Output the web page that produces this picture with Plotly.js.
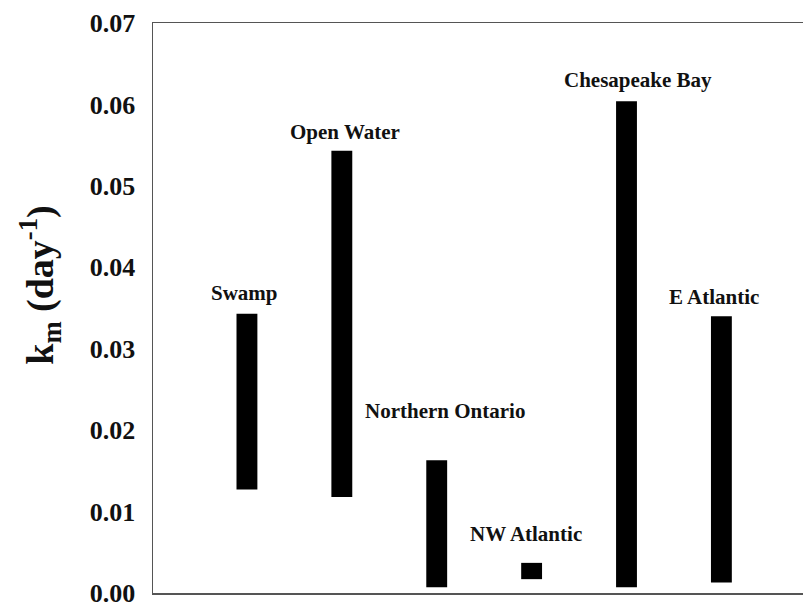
<!DOCTYPE html>
<html>
<head>
<meta charset="utf-8">
<script src="https://cdn.plot.ly/plotly-3.0.1.min.js"></script>
<style>
  html, body { margin: 0; padding: 0; background: #ffffff; }
  #chart { width: 803px; height: 605px; }
</style>
</head>
<body>
<div id="chart"></div>
<script>
// Range of the decay constant k_m (day^-1) for each environment
const sites = ["Swamp", "Open Water", "Northern Ontario", "NW Atlantic", "Chesapeake Bay", "E Atlantic"];
const kmLow = [0.0127, 0.0118, 0.0007, 0.0017, 0.0007, 0.0013];
const kmHigh = [0.0343, 0.0543, 0.0163, 0.0037, 0.0604, 0.0340];
const yTicks = [0, 0.01, 0.02, 0.03, 0.04, 0.05, 0.06, 0.07];
const yTickText = ["0.00", "0.01", "0.02", "0.03", "0.04", "0.05", "0.06", "0.07"];
const yTitle = "k<sub>m</sub> (day<sup>-1</sup>)";

// label offsets (px) from the top of each range bar
const labelShift = [[-2, 21], [3, 19], [8, 49], [-6, 29], [11, 21], [-7, 19]];

const serif = "Liberation Serif";

const trace = {
  type: "bar",
  x: sites.map((_, i) => i),
  base: kmLow,
  y: kmHigh.map((h, i) => h - kmLow[i]),
  width: 0.22,
  marker: { color: "#000000", line: { width: 0 } },
  hoverinfo: "skip"
};

const annotations = sites.map((name, i) => ({
  x: i,
  y: kmHigh[i],
  xref: "x",
  yref: "y",
  text: name,
  showarrow: false,
  xanchor: "center",
  yanchor: "middle",
  xshift: labelShift[i][0],
  yshift: labelShift[i][1],
  font: { family: serif, size: 21, color: "#111111", weight: "bold" }
}));

// vertical axis title, placed a little above the middle of the axis
annotations.push({
  x: -0.173,
  y: 0.54,
  xref: "paper",
  yref: "paper",
  text: yTitle,
  textangle: -90,
  showarrow: false,
  xanchor: "center",
  yanchor: "middle",
  font: { family: serif, size: 38, color: "#111111", weight: "bold" }
});

const layout = {
  width: 803,
  height: 605,
  margin: { l: 153, r: 0, t: 23, b: 12 },
  paper_bgcolor: "#ffffff",
  plot_bgcolor: "#ffffff",
  showlegend: false,
  xaxis: {
    range: [-0.99, 5.86],
    showticklabels: false,
    ticks: "",
    showgrid: false,
    zeroline: false,
    showline: true,
    mirror: true,
    linecolor: "#555555",
    linewidth: 1.5
  },
  yaxis: {
    range: [0, 0.07],
    tickvals: yTicks,
    ticktext: yTickText,
    ticks: "",
    ticklabelstandoff: 11,
    ticklabeloverflow: "allow",
    showgrid: false,
    zeroline: false,
    showline: true,
    linecolor: "#555555",
    linewidth: 1.5,
    tickfont: { family: serif, size: 26, color: "#111111", weight: "bold" }
  },
  annotations: annotations
};

Plotly.newPlot("chart", [trace], layout, { displayModeBar: false, staticPlot: true });
</script>
</body>
</html>
